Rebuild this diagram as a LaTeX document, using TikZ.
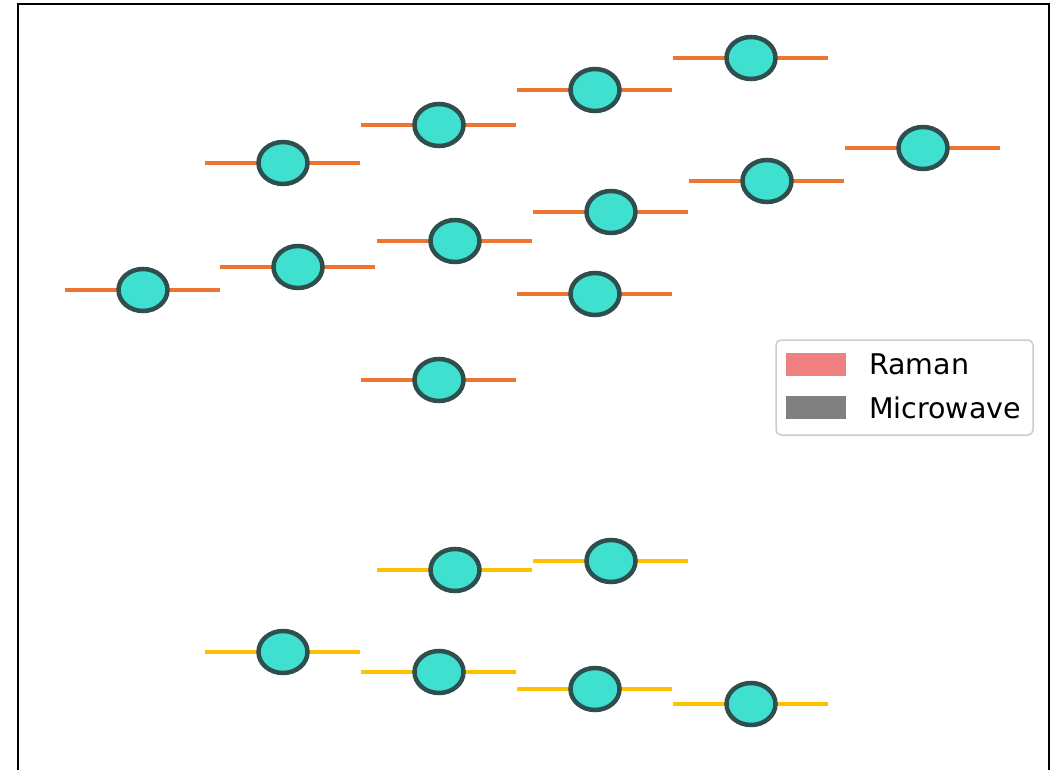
\documentclass[tikz,border=0pt]{standalone}
\usepackage{fontspec}
\setmainfont{DejaVu Sans}
\usetikzlibrary{shapes.geometric}
\definecolor{orangeline}{HTML}{ED7431}
\definecolor{yellowline}{HTML}{FFC000}
\definecolor{qfill}{HTML}{40E0D0}
\definecolor{qedge}{HTML}{2F4F4F}
\definecolor{ramanc}{HTML}{F08080}
\definecolor{microc}{HTML}{808080}
\definecolor{legedge}{HTML}{CCCCCC}
\tikzset{
  qubit/.style={ellipse, draw=qedge, fill=qfill, line width=4.5pt, inner sep=0pt, minimum width=49pt, minimum height=42pt},
  oline/.style={draw=orangeline, line width=4.5pt},
  yline/.style={draw=yellowline, line width=4.5pt},
  legbox/.style={draw=legedge, line width=1.5pt, rounded corners=5pt, fill=white},
  legpatch/.style={draw=none, minimum width=60pt, minimum height=23pt, inner sep=0pt},
  legtext/.style={anchor=west, inner sep=0pt, font=\fontsize{28.5}{32}\selectfont}
}
\begin{document}
\begin{tikzpicture}[x=1pt,y=-1pt]
\useasboundingbox (0,0) rectangle (1053,770);
\draw[line width=2pt] (18,770) -- (18,4) -- (1049,4) -- (1049,770);
% orange qubits: name / center x / center y
\foreach \n/\cx/\cy in {o1/143/290, o2/283/163, o3/298/267, o4/439/125, o5/455/241, o6/439/380, o7/595/90, o8/611/212, o9/595/294, o10/751/58, o11/767/181, o12/923/148}{
  \coordinate (\n a) at (\cx-78,\cy);
  \coordinate (\n b) at (\cx+77,\cy);
  \draw[oline] (\n a) -- (\n b);
  \node[qubit] (\n) at (\cx,\cy) {};
}
% yellow qubits
\foreach \n/\cx/\cy in {y1/455/570, y2/611/561, y3/283/652, y4/439/672, y5/595/689, y6/751/704}{
  \coordinate (\n a) at (\cx-78,\cy);
  \coordinate (\n b) at (\cx+77,\cy);
  \draw[yline] (\n a) -- (\n b);
  \node[qubit] (\n) at (\cx,\cy) {};
}
% legend
\node[legbox, minimum width=257pt, minimum height=95pt, inner sep=0pt] (leg) at (904.5,387.5) {};
\node[legpatch, fill=ramanc] (pr) at (816,364.5) {};
\node[legpatch, fill=microc] (pm) at (816,407.5) {};
\node[legtext] (tr) at (869,364.5) {Raman};
\node[legtext] (tm) at (869,407.5) {Microwave};
\end{tikzpicture}
\end{document}
